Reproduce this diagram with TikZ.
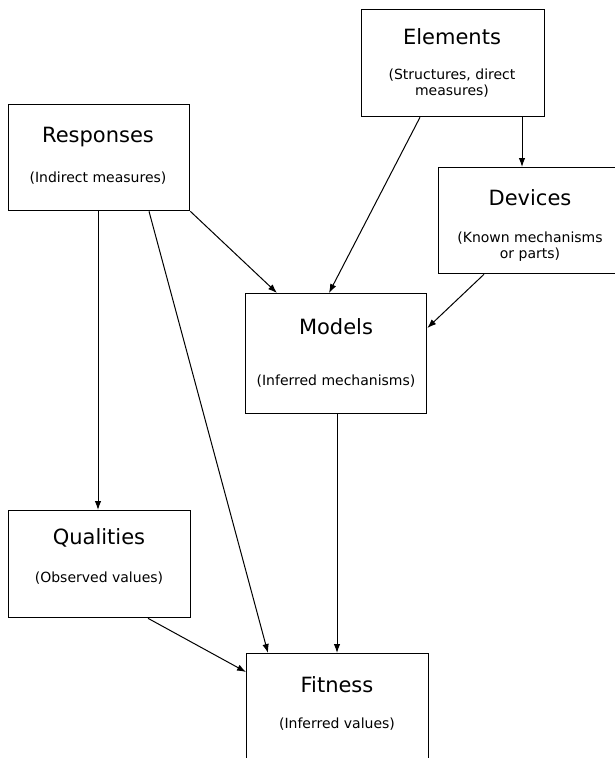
\documentclass[tikz,border=0pt]{standalone}
\usepackage{fontspec}
\setmainfont{DejaVu Sans}
\usetikzlibrary{arrows.meta}
\begin{document}
\begin{tikzpicture}[x=1pt,y=-1pt,
  box/.style={draw=black,line width=1.3pt,inner sep=0pt,anchor=north west,fill=white},
  ttl/.style={font=\fontsize{21}{25}\selectfont,anchor=base,inner sep=0pt},
  sub/.style={font=\fontsize{14}{17}\selectfont,anchor=base,inner sep=0pt},
  arr/.style={line width=1pt,-{Latex[length=9pt,width=6.5pt]}}]
\useasboundingbox (0,0) rectangle (614,758);
% boxes
\node[box,minimum width=183pt,minimum height=107pt] (elem) at (361,9) {};
\node[box,minimum width=181pt,minimum height=106pt] (resp) at (8,104) {};
\node[box,minimum width=186pt,minimum height=106pt] (dev) at (438,167) {};
\node[box,minimum width=181pt,minimum height=120pt] (mod) at (245,293) {};
\node[box,minimum width=182pt,minimum height=107pt] (qual) at (8,510) {};
\node[box,minimum width=182pt,minimum height=130pt] (fit) at (246,653) {};
% texts
\node[ttl] (elemT) at (452,44) {Elements};
\node[sub] (elemS1) at (452,79) {(Structures, direct};
\node[sub] (elemS2) at (452,95) {measures)};
\node[ttl] (respT) at (98,142) {Responses};
\node[sub] (respS) at (98,182) {(Indirect measures)};
\node[ttl] (devT) at (530,205) {Devices};
\node[sub] (devS1) at (530,242) {(Known mechanisms};
\node[sub] (devS2) at (530,258) {or parts)};
\node[ttl] (modT) at (336,334) {Models};
\node[sub] (modS) at (336,385) {(Inferred mechanisms)};
\node[ttl] (qualT) at (99,544) {Qualities};
\node[sub] (qualS) at (99,582) {(Observed values)};
\node[ttl] (fitT) at (337,692) {Fitness};
\node[sub] (fitS) at (337,728) {(Inferred values)};
% connectors
\draw[arr] ([xshift=161pt]elem.south west) -- ([xshift=84pt]dev.north west);
\draw[arr] ([xshift=59pt]elem.south west) -- ([xshift=84pt]mod.north west);
\draw[arr] (resp.south east) -- ([xshift=32pt]mod.north west);
\draw[arr] ([xshift=46pt]dev.south west) -- ([yshift=-35pt]mod.north east);
\draw[arr] ([xshift=90pt]resp.south west) -- ([xshift=90pt]qual.north west);
\draw[arr] ([xshift=141pt]resp.south west) -- ([xshift=22pt]fit.north west);
\draw[arr] ([xshift=92pt]mod.south west) -- ([xshift=91pt]fit.north west);
\draw[arr] ([xshift=140pt]qual.south west) -- ([yshift=-19pt]fit.north west);
\end{tikzpicture}
\end{document}
